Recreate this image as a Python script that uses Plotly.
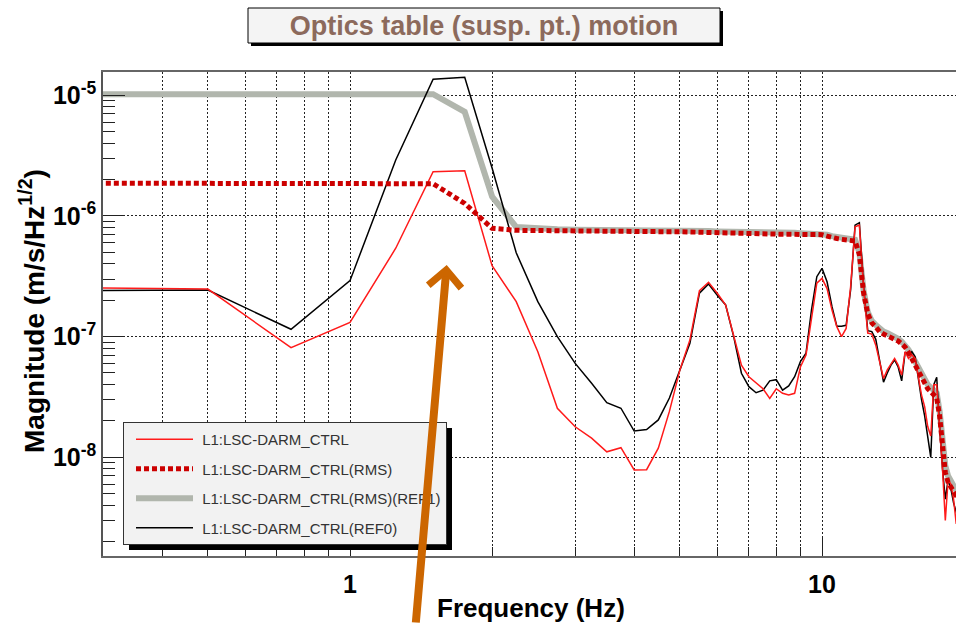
import plotly.graph_objects as go

# ---------------- data ----------------
freq = [0.25, 0.5, 0.75, 1.0, 1.25, 1.5, 1.75, 2.0, 2.25, 2.5, 2.75, 3.0, 3.25, 3.5, 3.75,
        4.0, 4.25, 4.5, 4.75, 5.0, 5.25, 5.5, 5.75, 6.0, 6.25, 6.5, 6.75, 7.0, 7.25, 7.5,
        7.75, 8.0, 8.25, 8.5, 8.75, 9.0, 9.25, 9.5, 9.75, 10.0, 10.25, 10.5, 10.75, 11.0,
        11.25, 11.5, 11.75, 12.0, 12.25, 12.5, 12.75, 13.0, 13.25, 13.5, 13.75, 14.0, 14.25,
        14.5, 14.75, 15.0, 15.25, 15.5, 15.75, 16.0, 16.25, 16.5, 16.75, 17.0, 17.25, 17.5,
        17.75, 18.0, 18.25, 18.5, 18.75, 19.0, 19.25, 19.5]

darm = [2.55e-7, 2.48e-7, 8.1e-8, 1.31e-7, 5.4e-7, 2.33e-6, 2.37e-6, 3.87e-7, 1.95e-7, 7.5e-8,
        2.55e-8, 1.79e-8, 1.44e-8, 1.11e-8, 1.2e-8, 7.85e-9, 7.9e-9, 1.19e-8, 2.4e-8, 5.3e-8,
        9.4e-8, 2.4e-7, 2.82e-7, 2.29e-7, 1.83e-7, 1.03e-7, 5.8e-8, 4.65e-8, 4.15e-8, 3.7e-8,
        3.08e-8, 3.7e-8, 3.39e-8, 3.28e-8, 3.39e-8, 5.6e-8, 7.05e-8, 1.46e-7, 2.77e-7, 3.04e-7,
        2.5e-7, 1.66e-7, 1.21e-7, 1.0e-7, 1.17e-7, 2.6e-7, 8.15e-7, 8.4e-7, 2.5e-7, 1.07e-7,
        1.05e-7, 8.5e-8, 6.0e-8, 4.5e-8, 5.3e-8, 6.0e-8, 6.6e-8, 5.8e-8, 4.8e-8, 7.5e-8,
        6.6e-8, 7.05e-8, 6.6e-8, 4.65e-8, 3.28e-8, 2.63e-8, 1.8e-8, 1.5e-8, 4.0e-8, 4.0e-8,
        1.8e-8, 8.0e-9, 3.0e-9, 6.5e-9, 6.0e-9, 4.5e-9, 2.8e-9, 3.5e-9]

darm_rms = [1.87e-6, 1.87e-6, 1.87e-6, 1.87e-6, 1.87e-6, 1.85e-6, 1.27e-6, 7.9e-7, 7.6e-7, 7.55e-7,
            7.55e-7, 7.5e-7, 7.5e-7, 7.5e-7, 7.45e-7, 7.45e-7, 7.45e-7, 7.4e-7, 7.4e-7, 7.4e-7,
            7.35e-7, 7.35e-7, 7.3e-7, 7.3e-7, 7.25e-7, 7.25e-7, 7.2e-7, 7.2e-7, 7.15e-7, 7.1e-7,
            7.1e-7, 7.1e-7, 7.05e-7, 7.05e-7, 7.05e-7, 7.05e-7, 7.0e-7, 7.0e-7, 7.0e-7, 7.0e-7,
            6.8e-7, 6.6e-7, 6.5e-7, 6.4e-7, 6.35e-7, 6.3e-7, 6.2e-7, 4.8e-7, 2.3e-7, 1.55e-7,
            1.3e-7, 1.2e-7, 1.1e-7, 1.05e-7, 1.02e-7, 9.9e-8, 9.6e-8, 9.2e-8, 8.7e-8, 8.2e-8,
            7.4e-8, 6.6e-8, 5.9e-8, 5.2e-8, 4.6e-8, 4.1e-8, 3.7e-8, 3.5e-8, 3.3e-8, 3.1e-8,
            2.2e-8, 1.3e-8, 7.5e-9, 6.2e-9, 5.6e-9, 5.2e-9, 4.8e-9, 4.6e-9]

darm_rms_ref1 = [1.02e-5, 1.02e-5, 1.02e-5, 1.02e-5, 1.02e-5, 1.02e-5, 7.3e-6, 1.45e-6, 8.1e-7, 7.8e-7,
                 7.75e-7, 7.7e-7, 7.7e-7, 7.7e-7, 7.65e-7, 7.65e-7, 7.6e-7, 7.6e-7, 7.6e-7, 7.55e-7,
                 7.55e-7, 7.5e-7, 7.5e-7, 7.45e-7, 7.45e-7, 7.4e-7, 7.4e-7, 7.35e-7, 7.35e-7, 7.3e-7,
                 7.3e-7, 7.3e-7, 7.25e-7, 7.25e-7, 7.25e-7, 7.2e-7, 7.2e-7, 7.2e-7, 7.2e-7, 7.15e-7,
                 7.0e-7, 6.8e-7, 6.7e-7, 6.6e-7, 6.5e-7, 6.45e-7, 6.35e-7, 5.0e-7, 2.4e-7, 1.6e-7,
                 1.35e-7, 1.25e-7, 1.15e-7, 1.1e-7, 1.07e-7, 1.04e-7, 1.0e-7, 9.6e-8, 9.1e-8, 8.5e-8,
                 7.8e-8, 7.0e-8, 6.2e-8, 5.5e-8, 4.9e-8, 4.4e-8, 4.0e-8, 3.8e-8, 3.6e-8, 3.4e-8,
                 2.4e-8, 1.4e-8, 8.5e-9, 7.0e-9, 6.2e-9, 5.8e-9, 5.3e-9, 5.0e-9]

darm_ref0 = [2.4e-7, 2.43e-7, 1.15e-7, 2.91e-7, 2.91e-6, 1.36e-5, 1.41e-5, 2.5e-6, 4.95e-7, 1.95e-7,
             1.0e-7, 6.0e-8, 4.1e-8, 2.84e-8, 2.55e-8, 1.65e-8, 1.7e-8, 2.04e-8, 3.1e-8, 5.3e-8,
             8.8e-8, 2.29e-7, 2.73e-7, 2.2e-7, 1.83e-7, 1.0e-7, 4.97e-8, 3.85e-8, 3.43e-8, 3.6e-8,
             4.3e-8, 4.4e-8, 3.6e-8, 3.9e-8, 4.65e-8, 6.2e-8, 7.3e-8, 1.66e-7, 3.14e-7, 3.68e-7,
             2.85e-7, 1.77e-7, 1.22e-7, 1.22e-7, 1.24e-7, 2.45e-7, 8.4e-7, 8.8e-7, 2.6e-7, 1.12e-7,
             1.1e-7, 9.5e-8, 6.5e-8, 4.2e-8, 5.0e-8, 5.8e-8, 6.4e-8, 5.6e-8, 4.3e-8, 7.4e-8,
             7.0e-8, 7.5e-8, 6.8e-8, 4.3e-8, 3.0e-8, 2.2e-8, 1.5e-8, 1.0e-8, 4.0e-8, 4.6e-8,
             1.8e-8, 8.0e-9, 4.5e-9, 6.5e-9, 5.5e-9, 4.2e-9, 3.5e-9, 3.2e-9]

legend_names = ["L1:LSC-DARM_CTRL", "L1:LSC-DARM_CTRL(RMS)",
                "L1:LSC-DARM_CTRL(RMS)(REF1)", "L1:LSC-DARM_CTRL(REF0)"]
y_tickvals = [1e-8, 1e-7, 1e-6, 1e-5]
y_ticktext = ["<b>10<sup>-8</sup></b>", "<b>10<sup>-7</sup></b>",
              "<b>10<sup>-6</sup></b>", "<b>10<sup>-5</sup></b>"]
x_tickvals = [1, 10]
x_ticktext = ["<b>1</b>", "<b>10</b>"]
x_minor = [0.3, 0.4, 0.5, 0.6, 0.7, 0.8, 0.9, 2, 3, 4, 5, 6, 7, 8, 9, 20]
y_minor = [m * d for d in (1e-9, 1e-8, 1e-7, 1e-6) for m in range(2, 10)]

# ---------------- layout geometry (pixels) ----------------
W, H = 956, 624
L, R, T, B = 103, 0, 72, 68
PW, PH = W - L - R, H - T - B


def px(x):
    return (x - L) / PW


def py(y):
    return (H - B - y) / PH


FONT = "Arial, 'Liberation Sans', Helvetica, sans-serif"
NB = "\u00a0"

fig = go.Figure()

fig.add_trace(go.Scatter(x=freq, y=darm_rms_ref1, mode="lines", name=NB + legend_names[2],
                         line=dict(color="#b1b6ad", width=6), legendrank=3, legendgroup="c"))
fig.add_trace(go.Scatter(x=freq, y=darm_ref0, mode="lines", name=NB + legend_names[3],
                         line=dict(color="#000000", width=1.5), legendrank=4, legendgroup="d"))
fig.add_trace(go.Scatter(x=freq, y=darm, mode="lines", name=NB + legend_names[0],
                         line=dict(color="#ff1a1a", width=1.5), legendrank=1, legendgroup="a"))
fig.add_trace(go.Scatter(x=freq, y=darm_rms, mode="lines", name=NB + legend_names[1],
                         line=dict(color="#cc0000", width=5, dash="5px,3px"),
                         legendrank=2, legendgroup="b"))

shapes = [
    # title box shadow + box
    dict(type="rect", xref="paper", yref="paper", x0=px(251), x1=px(723), y0=py(46), y1=py(11),
         fillcolor="#000000", line=dict(width=0), layer="above"),
    dict(type="rect", xref="paper", yref="paper", x0=px(248), x1=px(720), y0=py(43), y1=py(8),
         fillcolor="#f4f4f4", line=dict(color="#000000", width=1), layer="above"),
    # legend shadow
    dict(type="rect", xref="paper", yref="paper", x0=px(129), x1=px(452), y0=py(550), y1=py(428),
         fillcolor="#000000", line=dict(width=0), layer="above"),
]

annotations = [
    dict(text="<b>Frequency (Hz)</b>", xref="paper", yref="paper", x=px(531), y=py(608),
         showarrow=False, font=dict(family=FONT, size=26, color="#000000"),
         xanchor="center", yanchor="middle"),
    dict(text="<b>Magnitude (m/s/Hz<sup>1/2</sup>)</b>", xref="paper", yref="paper",
         x=px(32), y=py(311), showarrow=False, textangle=-90,
         font=dict(family=FONT, size=28, color="#000000"), xanchor="center", yanchor="middle"),
    # orange arrow
    dict(text="", x=0.2049, y=-6.406, xref="x", yref="y", showarrow=True, arrowhead=4,
         arrowsize=0.8, arrowwidth=8, arrowcolor="#cc6600", ax=-31, ay=370,
         axref="pixel", ayref="pixel"),
]

fig.update_layout(
    width=W, height=H,
    margin=dict(l=L, r=R, t=T, b=B, pad=0),
    paper_bgcolor="white", plot_bgcolor="white",
    font=dict(family=FONT, color="#000000"),
    title=dict(text="<b>Optics table (susp. pt.) motion</b>", xref="container", yref="container",
               x=484 / W, y=1 - 26 / H, xanchor="center", yanchor="middle",
               font=dict(family=FONT, size=27, color="#8c6a5c")),
    showlegend=True,
    legend=dict(x=px(123), y=py(422), xanchor="left", yanchor="top",
                bgcolor="#f2f2f2", bordercolor="#333333", borderwidth=1,
                font=dict(family=FONT, size=15, color="#333333"),
                itemwidth=57, indentation=7, tracegroupgap=7, traceorder="grouped"),
    shapes=shapes,
    annotations=annotations,
    xaxis=dict(type="log", range=[-0.5233, 1.2839], tickvals=x_tickvals, ticktext=x_ticktext,
               ticks="inside", ticklen=18, tickwidth=1, tickcolor="#222222",
               tickfont=dict(family=FONT, size=25, color="#000000"), ticklabelstandoff=5,
               showgrid=True, gridcolor="#222222", gridwidth=1, griddash="2px,2px",
               showline=True, linecolor="#666666", linewidth=2, mirror=True, zeroline=False,
               minor=dict(tickvals=x_minor, ticks="inside", ticklen=9, tickcolor="#222222",
                          showgrid=True, gridcolor="#222222", griddash="2px,2px", gridwidth=1)),
    yaxis=dict(type="log", range=[-8.818, -4.807], tickvals=y_tickvals, ticktext=y_ticktext,
               ticks="inside", ticklen=22, tickwidth=1, tickcolor="#222222",
               tickfont=dict(family=FONT, size=25, color="#000000"), ticklabelstandoff=0,
               showgrid=True, gridcolor="#222222", gridwidth=1, griddash="2px,2px",
               showline=True, linecolor="#555555", linewidth=1.5, mirror=False, zeroline=False,
               minor=dict(tickvals=y_minor, ticks="inside", ticklen=12, tickcolor="#222222",
                          showgrid=False)),
)

fig.write_html("out.html")
